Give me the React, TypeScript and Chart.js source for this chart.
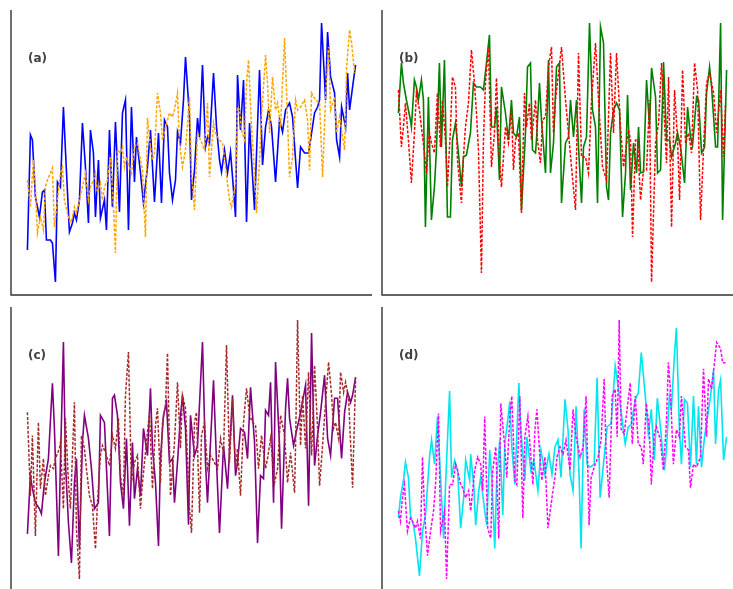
import { useEffect, useRef } from "react";
import { Chart, registerables } from "chart.js";

Chart.register(...registerables);

type Pt = [number, number];

// Panel (a): solid blue / dashed orange  [time, value]
const aSolid: Pt[] = [[0,32],[3,147],[5,142],[8,85],[12,65],[15,90],[17,92],[19,42],[23,42],[25,39],[28,0],[30,100],[33,95],[36,175],[38,132],[42,50],[45,59],[47,69],[49,62],[52,82],[55,159],[58,115],[61,59],[63,152],[66,129],[68,65],[71,122],[73,64],[77,82],[79,52],[82,152],[85,75],[88,160],[92,70],[95,169],[98,182],[101,52],[104,175],[107,100],[109,145],[113,109],[116,79],[120,115],[123,152],[127,80],[131,149],[134,79],[137,162],[140,155],[142,109],[145,82],[148,102],[150,150],[153,139],[156,182],[158,225],[162,165],[164,82],[167,112],[170,164],[172,145],[175,217],[178,135],[180,145],[182,139],[186,209],[189,155],[192,122],[194,110],[197,132],[200,109],[203,130],[205,105],[208,65],[210,207],[213,152],[216,202],[219,60],[222,159],[224,122],[227,72],[229,129],[232,212],[235,117],[238,155],[241,172],[244,155],[248,100],[252,162],[255,150],[258,172],[262,179],[265,165],[270,94],[273,135],[277,129],[281,129],[283,142],[287,169],[290,175],[292,182],[294,259],[298,182],[300,250],[303,205],[307,189],[309,142],[312,125],[314,175],[318,155],[320,209],[322,172],[325,195],[328,217]];
const aDashed: Pt[] = [[0,102],[3,75],[6,122],[8,95],[10,49],[13,65],[16,52],[18,95],[20,102],[23,109],[25,114],[27,55],[30,82],[33,109],[35,115],[37,82],[40,69],[43,59],[45,65],[47,75],[49,69],[52,82],[55,95],[58,109],[61,82],[63,95],[66,102],[68,109],[70,89],[73,99],[75,82],[77,95],[80,102],[83,125],[86,75],[88,29],[90,132],[93,129],[95,135],[97,115],[99,125],[102,115],[104,109],[107,135],[110,139],[113,122],[115,112],[118,45],[120,164],[123,135],[125,122],[127,129],[130,189],[133,169],[135,142],[138,155],[142,169],[145,165],[147,172],[150,189],[152,139],[155,115],[158,132],[162,185],[164,109],[167,72],[170,149],[173,142],[177,132],[180,179],[182,105],[186,159],[188,149],[192,142],[195,139],[198,115],[202,82],[204,75],[208,99],[210,175],[212,172],[214,152],[217,142],[219,199],[221,222],[224,155],[227,109],[229,69],[232,122],[234,165],[238,227],[240,199],[242,149],[245,205],[248,172],[250,179],[253,155],[257,244],[259,189],[262,105],[265,125],[268,182],[270,172],[273,175],[277,182],[280,162],[282,112],[284,189],[288,182],[292,179],[295,105],[298,185],[301,235],[303,172],[307,185],[309,149],[312,165],[314,152],[317,132],[319,215],[322,252],[324,239],[327,209]];

// Panel (b): solid green / dashed red
const bSolid: Pt[] = [[0,169],[3,219],[5,199],[8,182],[12,162],[13,155],[16,202],[18,195],[20,182],[23,202],[25,182],[27,55],[30,185],[33,62],[36,95],[38,132],[41,219],[43,135],[46,222],[49,65],[52,65],[54,142],[57,159],[60,129],[63,95],[65,125],[68,127],[72,149],[75,199],[78,195],[82,195],[85,192],[88,219],[91,247],[93,155],[96,155],[98,175],[101,102],[103,195],[107,169],[110,142],[113,182],[115,149],[118,145],[121,165],[123,72],[127,149],[129,215],[132,219],[134,132],[137,129],[138,142],[141,199],[143,162],[147,109],[150,222],[152,109],[155,139],[158,215],[161,219],[163,79],[167,139],[170,145],[172,182],[175,145],[178,182],[180,135],[183,79],[185,135],[188,145],[191,259],[194,172],[197,155],[199,79],[202,255],[205,239],[208,95],[210,82],[212,149],[215,172],[218,179],[221,172],[224,65],[227,109],[229,187],[232,92],[235,139],[238,109],[240,155],[242,109],[245,110],[248,202],[251,155],[253,214],[257,185],[259,109],[262,112],[265,220],[268,142],[271,142],[273,125],[277,139],[279,149],[282,135],[286,99],[289,175],[292,145],[294,137],[298,185],[300,182],[303,129],[306,135],[308,189],[311,215],[313,195],[317,135],[319,135],[322,259],[324,62],[328,212]];
const bDashed: Pt[] = [[0,192],[3,135],[5,155],[7,179],[10,142],[13,99],[16,149],[18,189],[21,172],[23,155],[26,129],[28,109],[31,149],[33,139],[36,129],[39,189],[42,135],[44,182],[47,142],[49,95],[52,152],[54,205],[57,195],[59,122],[63,79],[65,125],[67,155],[70,179],[73,232],[76,199],[78,169],[80,132],[83,9],[85,142],[87,199],[90,235],[93,115],[96,149],[98,204],[101,122],[103,95],[107,155],[110,139],[113,172],[115,112],[117,142],[120,149],[123,69],[126,189],[128,155],[131,179],[133,142],[137,182],[139,142],[142,119],[144,162],[147,165],[150,215],[153,235],[155,149],[157,182],[160,209],[163,235],[167,182],[170,149],[173,115],[177,72],[180,229],[183,125],[187,125],[190,109],[193,182],[197,239],[200,182],[204,115],[208,102],[212,229],[215,149],[218,229],[222,155],[225,115],[230,152],[232,142],[234,45],[237,142],[239,142],[242,82],[245,112],[248,112],[251,182],[253,0],[257,139],[260,159],[263,219],[268,119],[270,205],[273,55],[276,192],[279,142],[281,82],[284,212],[287,139],[290,149],[293,129],[296,219],[299,192],[302,62],[305,135],[308,199],[311,209],[315,189],[318,149],[322,192],[325,125],[327,179]];

// Panel (c): solid purple / dashed brown
const cSolid: Pt[] = [[0,46],[3,104],[5,91],[8,77],[12,71],[14,66],[17,97],[21,121],[25,196],[27,151],[31,24],[33,117],[36,237],[38,117],[41,57],[44,17],[47,97],[49,121],[52,31],[55,137],[57,164],[61,141],[64,111],[67,71],[71,77],[73,164],[77,157],[82,44],[85,181],[87,184],[90,164],[93,97],[96,71],[99,141],[102,54],[105,137],[107,81],[110,111],[113,84],[116,151],[120,124],[123,191],[125,131],[128,97],[131,34],[133,121],[136,164],[139,177],[142,117],[145,121],[147,77],[150,117],[153,164],[155,184],[158,151],[161,55],[163,164],[167,124],[170,134],[175,237],[178,117],[180,77],[183,137],[186,199],[189,117],[192,47],[196,134],[200,91],[205,184],[208,104],[210,117],[213,151],[217,147],[220,121],[223,192],[227,137],[230,37],[233,104],[236,101],[238,169],[241,164],[243,197],[246,77],[248,217],[252,134],[254,51],[258,171],[260,201],[262,161],[266,134],[268,144],[273,167],[278,194],[281,74],[284,246],[287,114],[290,144],[293,167],[297,204],[300,141],[303,124],[307,181],[310,181],[314,121],[317,167],[320,187],[323,177],[325,184],[328,202]];
const cDashed: Pt[] = [[0,167],[3,84],[5,144],[8,44],[11,157],[13,91],[16,121],[18,84],[21,104],[23,114],[26,111],[28,121],[32,131],[33,137],[36,71],[38,161],[41,97],[43,71],[47,177],[49,51],[52,1],[54,144],[57,131],[59,111],[62,84],[65,74],[68,31],[70,77],[73,124],[75,134],[78,127],[82,114],[85,144],[88,131],[91,161],[93,104],[96,84],[98,184],[101,227],[104,97],[107,117],[110,124],[113,71],[115,97],[118,127],[122,167],[125,91],[128,154],[130,171],[133,97],[135,157],[138,174],[140,226],[143,84],[145,111],[147,137],[150,197],[153,131],[155,184],[158,171],[162,71],[164,47],[167,157],[169,167],[172,67],[174,144],[177,157],[180,111],[183,124],[187,117],[190,111],[193,141],[196,127],[199,234],[202,117],[205,181],[208,111],[210,131],[213,84],[216,157],[219,191],[222,164],[225,157],[228,154],[231,111],[234,144],[238,111],[240,121],[243,141],[247,97],[250,111],[253,164],[257,144],[260,97],[263,127],[267,87],[268,134],[270,259],[273,134],[275,184],[278,131],[281,207],[284,124],[287,214],[290,151],[292,94],[295,134],[298,177],[301,217],[304,184],[306,151],[308,157],[311,141],[313,207],[316,187],[318,197],[321,181],[325,92],[328,201]];

// Panel (d): solid cyan / dashed magenta
const dSolid: Pt[] = [[1,64],[3,84],[6,101],[8,119],[11,104],[13,67],[16,57],[18,44],[22,7],[25,51],[28,67],[32,124],[34,141],[37,117],[40,164],[43,104],[46,44],[48,97],[52,189],[54,104],[57,121],[60,111],[63,54],[66,84],[68,121],[72,101],[73,127],[76,97],[78,57],[81,91],[83,104],[87,71],[89,57],[92,131],[94,104],[97,34],[99,104],[102,141],[105,67],[107,137],[110,161],[112,179],[114,134],[117,97],[121,197],[123,151],[127,101],[129,144],[133,111],[136,121],[140,91],[143,131],[147,107],[151,127],[154,107],[157,134],[160,141],[163,104],[167,181],[170,151],[172,107],[175,91],[178,174],[181,107],[183,34],[186,171],[189,117],[192,114],[196,117],[199,202],[202,84],[206,124],[209,154],[213,157],[217,214],[220,194],[223,167],[227,137],[230,154],[233,156],[237,181],[240,187],[243,227],[247,184],[250,147],[253,171],[256,121],[259,182],[262,154],[266,111],[268,131],[271,184],[273,171],[276,224],[278,251],[281,151],[283,117],[286,181],[289,177],[292,114],[295,184],[298,117],[300,174],[303,114],[306,144],[308,157],[312,184],[315,210],[317,137],[320,190],[322,200],[325,121],[328,144]];
const dDashed: Pt[] = [[1,71],[3,61],[5,84],[7,97],[10,51],[13,64],[15,61],[18,54],[20,61],[23,44],[25,124],[27,71],[30,27],[33,51],[36,71],[38,97],[41,167],[43,51],[47,71],[49,4],[52,97],[55,97],[58,117],[60,111],[63,97],[65,94],[68,84],[71,91],[73,71],[77,111],[80,124],[83,117],[85,91],[87,164],[90,54],[93,44],[95,111],[98,134],[101,44],[103,177],[107,134],[109,104],[112,164],[114,184],[117,101],[119,97],[122,184],[125,64],[127,144],[130,164],[133,124],[135,97],[137,151],[139,171],[142,124],[144,101],[147,124],[150,54],[154,84],[157,104],[159,124],[162,134],[165,127],[168,141],[172,111],[175,171],[178,144],[182,124],[185,134],[188,184],[191,57],[193,104],[197,117],[200,124],[203,141],[206,201],[208,127],[211,84],[214,184],[217,191],[219,144],[221,259],[223,151],[226,147],[228,164],[232,197],[234,137],[237,184],[240,137],[243,134],[245,117],[248,177],[251,151],[253,97],[256,147],[258,154],[262,141],[265,111],[268,157],[270,217],[272,191],[275,117],[278,151],[281,144],[283,184],[287,134],[290,131],[292,94],[295,117],[298,114],[302,124],[305,211],[308,144],[310,201],[313,191],[316,217],[318,237],[322,231],[324,217],[327,217]];

const panelLabels = ["(a)", "(b)", "(c)", "(d)"];
const solidSeries = [aSolid, bSolid, cSolid, dSolid];
const dashedSeries = [aDashed, bDashed, cDashed, dDashed];
const solidColors = ["#0000ff", "#008000", "#800080", "#00e5ee"];
const dashedColors = ["#ffa500", "#ff0000", "#a52a2a", "#ff00ff"];

// frame geometry (pixels)
const FRAME_W = 361;
const FRAME_H = 285;
const PAD = 4;
const frames = [
  { left: 11, top: 10 },
  { left: 382, top: 10 },
  { left: 11, top: 307 },
  { left: 382, top: 307 },
];

const axesPlugin = {
  id: "panelAxes",
  afterDatasetsDraw(chart: any, _args: any, opts: any) {
    const { ctx, chartArea } = chart;
    const { left, top, right, bottom } = chartArea;
    ctx.save();
    ctx.strokeStyle = "#333333";
    ctx.lineWidth = 1.4;
    ctx.beginPath();
    ctx.moveTo(left, top);
    ctx.lineTo(left, bottom);
    ctx.lineTo(right, bottom);
    ctx.stroke();
    ctx.font = 'bold 12px "DejaVu Sans", sans-serif';
    ctx.fillStyle = "#404040";
    ctx.textBaseline = "middle";
    ctx.textAlign = "left";
    ctx.fillText(opts.label, left + 17, top + 49);
    ctx.restore();
  },
};

function Panel({ idx }: { idx: number }) {
  const ref = useRef<HTMLCanvasElement>(null);
  useEffect(() => {
    if (!ref.current) return;
    const solid = solidSeries[idx];
    const dashed = dashedSeries[idx];
    const all = [...solid, ...dashed];
    const xs = all.map((p) => p[0]);
    const ys = all.map((p) => p[1]);
    const xmin = Math.min(...xs), xmax = Math.max(...xs);
    const ymin = Math.min(...ys), ymax = Math.max(...ys);
    const xp = (xmax - xmin) * 0.05;
    const yp = (ymax - ymin) * 0.05;
    const chart = new Chart(ref.current, {
      type: "line",
      data: {
        datasets: [
          {
            data: dashed.map(([x, y]) => ({ x, y })),
            borderColor: dashedColors[idx],
            borderWidth: 1.5,
            borderDash: [3, 1.6],
            pointRadius: 0,
            tension: 0,
            fill: false,
            order: 1,
          },
          {
            data: solid.map(([x, y]) => ({ x, y })),
            borderColor: solidColors[idx],
            borderWidth: 1.6,
            pointRadius: 0,
            tension: 0,
            fill: false,
            order: 2,
          },
        ],
      },
      options: {
        responsive: false,
        animation: false,
        devicePixelRatio: 1,
        events: [],
        layout: { padding: PAD },
        plugins: {
          legend: { display: false },
          tooltip: { enabled: false },
          panelAxes: { label: panelLabels[idx] },
        } as any,
        scales: {
          x: { type: "linear", display: false, min: xmin - xp, max: xmax + xp },
          y: { type: "linear", display: false, min: ymin - yp, max: ymax + yp },
        },
      },
      plugins: [axesPlugin],
    });
    return () => chart.destroy();
  }, [idx]);
  const f = frames[idx];
  return (
    <canvas
      ref={ref}
      width={FRAME_W + 2 * PAD}
      height={FRAME_H + 2 * PAD}
      style={{ position: "absolute", left: f.left - PAD, top: f.top - PAD }}
    />
  );
}

export default function App() {
  return (
    <div
      style={{
        position: "fixed",
        left: 0,
        top: 0,
        width: 733,
        height: 589,
        overflow: "hidden",
        background: "#ffffff",
      }}
    >
      {[0, 1, 2, 3].map((i) => (
        <Panel key={i} idx={i} />
      ))}
    </div>
  );
}
